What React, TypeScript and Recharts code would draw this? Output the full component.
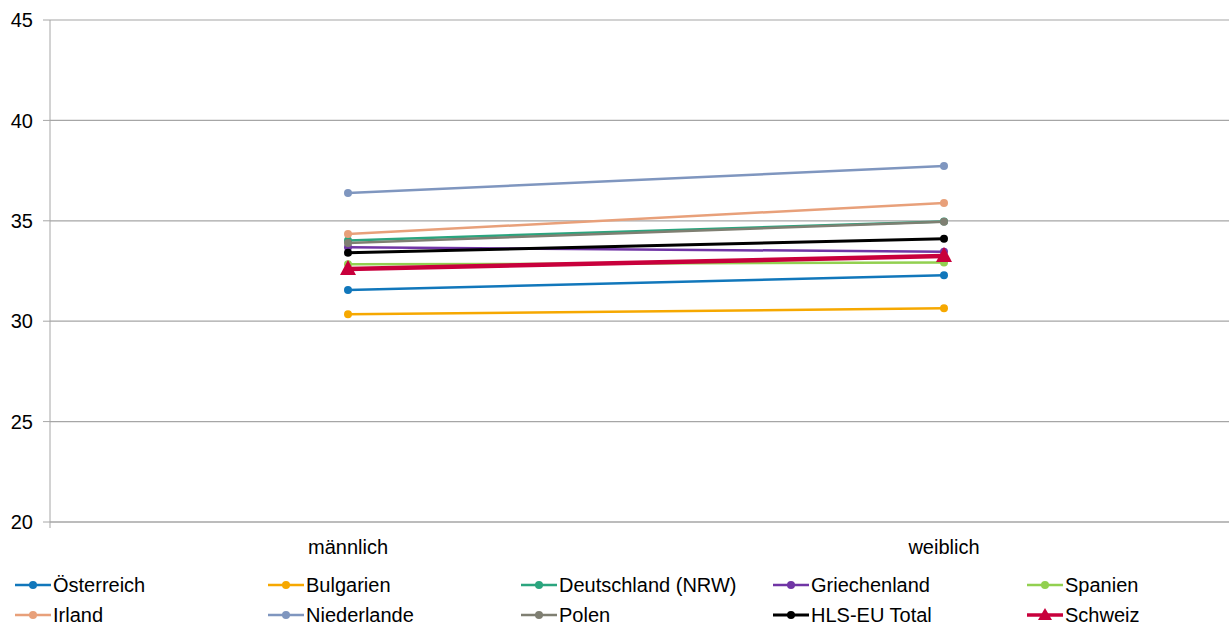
import { LineChart, Line, XAxis, YAxis, CartesianGrid } from 'recharts';

const categories = ['männlich', 'weiblich'];
const yTicks = [20, 25, 30, 35, 40, 45];

const oesterreich = [31.55, 32.29];
const bulgarien = [30.34, 30.64];
const deutschland = [34.02, 34.97];
const griechenland = [33.68, 33.46];
const spanien = [32.83, 32.92];
const irland = [34.34, 35.89];
const niederlande = [36.38, 37.73];
const polen = [33.9, 34.95];
const hlsTotal = [33.41, 34.11];
const schweiz = [32.6, 33.25];

const seriesList = [
  { key: 'oe', name: 'Österreich', values: oesterreich, color: '#1177BB', width: 2.5 },
  { key: 'bg', name: 'Bulgarien', values: bulgarien, color: '#F6A800', width: 2.5 },
  { key: 'de', name: 'Deutschland (NRW)', values: deutschland, color: '#2BA57E', width: 2.5 },
  { key: 'gr', name: 'Griechenland', values: griechenland, color: '#7035A5', width: 2.5 },
  { key: 'es', name: 'Spanien', values: spanien, color: '#92D050', width: 2.5 },
  { key: 'ie', name: 'Irland', values: irland, color: '#E8A07A', width: 2.5 },
  { key: 'nl', name: 'Niederlande', values: niederlande, color: '#7F96BF', width: 2.5 },
  { key: 'pl', name: 'Polen', values: polen, color: '#7F7F72', width: 2.5 },
  { key: 'eu', name: 'HLS-EU Total', values: hlsTotal, color: '#000000', width: 3 },
  { key: 'ch', name: 'Schweiz', values: schweiz, color: '#C8003C', width: 4.5 },
];

const data = categories.map((c, i) => {
  const row: any = { cat: c };
  seriesList.forEach(s => { row[s.key] = s.values[i]; });
  return row;
});

const font = '"Liberation Sans", Arial, sans-serif';

const Triangle = (props: any) => {
  const { cx, cy, fill } = props;
  if (cx == null || cy == null) return null;
  return <path d={`M${cx},${cy - 9} L${cx + 8},${cy + 6} L${cx - 8},${cy + 6} Z`} fill={fill} />;
};

const legendX = [15, 268, 521, 773, 1027];

function LegendIcon({ color, width, triangle }: { color: string; width: number; triangle?: boolean }) {
  return (
    <svg width={36} height={16} style={{ display: 'block' }}>
      <line x1={0} y1={8} x2={36} y2={8} stroke={color} strokeWidth={Math.min(width, 3.5)} />
      {triangle ? (
        <path d="M18,1 L25,13 L11,13 Z" fill={color} />
      ) : (
        <circle cx={18} cy={8} r={4} fill={color} />
      )}
    </svg>
  );
}

export default function App() {
  return (
    <div style={{ position: 'fixed', left: 0, top: 0, width: 1229, height: 625, overflow: 'hidden', background: '#fff', fontFamily: font }}>
      <LineChart width={1260} height={561} data={data} margin={{ top: 20, right: 18, bottom: 0, left: 0 }}>
        <CartesianGrid vertical={false} stroke="#A6A6A6" strokeWidth={1.2} xAxisId={1} />
        {/* axis line and tick marks between categories */}
        <XAxis
          xAxisId={0}
          type="number"
          domain={[0, 2]}
          ticks={[0, 1, 2]}
          height={1}
          tick={() => <g />}
          tickSize={6}
          stroke="#A6A6A6"
          interval={0}
        />
        <XAxis
          xAxisId={1}
          dataKey="cat"
          scale="band"
          height={38}
          axisLine={false}
          tickLine={false}
          tick={{ fill: '#000', fontSize: 20, fontFamily: font }}
          tickMargin={11}
        />
        <YAxis
          domain={[20, 45]}
          ticks={yTicks}
          width={50}
          stroke="#A6A6A6"
          tickSize={7}
          tickMargin={10}
          tick={{ fill: '#000', fontSize: 20, fontFamily: font }}
          interval={0}
        />
        {seriesList.map(s => (
          <Line
            key={s.key}
            xAxisId={1}
            dataKey={s.key}
            name={s.name}
            stroke={s.color}
            strokeWidth={s.width}
            dot={s.key === 'ch' ? <Triangle fill={s.color} /> : { r: 4, fill: s.color, stroke: s.color, strokeWidth: 0 }}
            isAnimationActive={false}
          />
        ))}
      </LineChart>
      {seriesList.map((s, i) => (
        <div
          key={s.key}
          style={{
            position: 'absolute',
            left: legendX[i % 5],
            top: i < 5 ? 575 : 605,
            display: 'flex',
            alignItems: 'center',
            fontSize: 20,
            lineHeight: '20px',
            height: 20,
            color: '#000',
            whiteSpace: 'nowrap',
          }}
        >
          <LegendIcon color={s.color} width={s.width} triangle={s.key === 'ch'} />
          <span style={{ marginLeft: 2 }}>{s.name}</span>
        </div>
      ))}
    </div>
  );
}
